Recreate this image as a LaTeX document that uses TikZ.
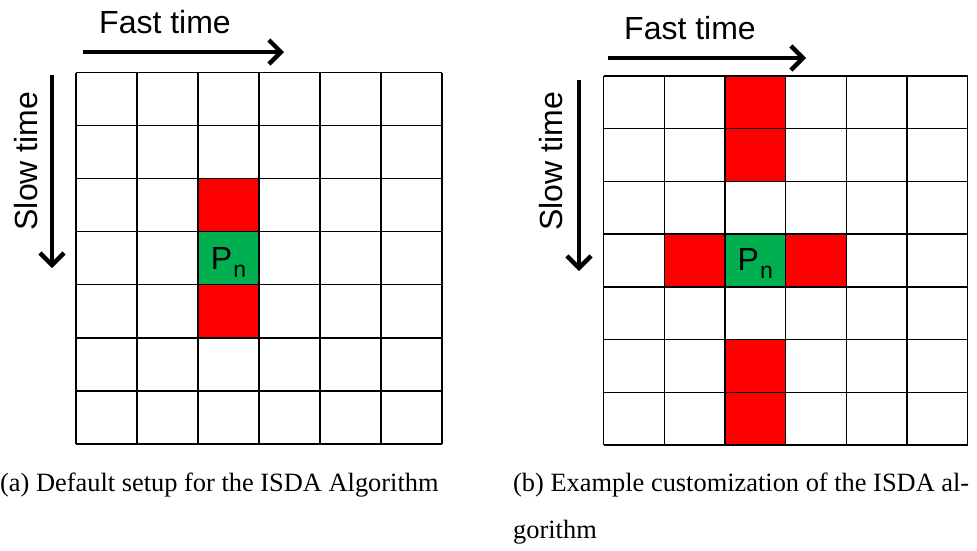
\documentclass[tikz,border=0pt]{standalone}
\usepackage{fontspec}
\setmainfont{Liberation Serif}
\newfontfamily\labelfont{Liberation Sans}
\usetikzlibrary{arrows.meta}

\definecolor{cellred}{RGB}{255,0,0}
\definecolor{cellgreen}{RGB}{0,176,80}

\tikzset{
  gridline/.style={line width=1.4pt, black},
  redcell/.style={fill=cellred},
  greencell/.style={fill=cellgreen},
  axisarrow/.style={line width=4.6pt, -{Straight Barb[length=12pt,width=24pt,line width=4.4pt]}},
  axislabel/.style={font=\labelfont\fontsize{32}{36}\selectfont, inner sep=0pt},
  pnlabel/.style={font=\labelfont\fontsize{32}{36}\selectfont, inner sep=0pt, anchor=base},
  caption/.style={font=\fontsize{26.4}{30}\selectfont, inner sep=0pt, anchor=base west},
}

% P with a lowered small n
\newcommand{\pnsym}{P\kern1pt\raisebox{-8pt}{\fontsize{23}{23}\selectfont n}}

\begin{document}
\begin{tikzpicture}[x=1pt, y=-1pt]
  \useasboundingbox (0,0) rectangle (977,550);

  % ---------- left panel: default setup ----------
  \begin{scope}[shift={(76,72.5)}, x=61pt, y=-53.07pt]
    \fill[redcell]   (2,2) rectangle (3,3);
    \fill[greencell] (2,3) rectangle (3,4);
    \fill[redcell]   (2,4) rectangle (3,5);
    \foreach \c in {0,...,6} \draw[gridline] (\c,0) -- (\c,7);
    \foreach \r in {0,...,7} \draw[gridline] (0,\r) -- (6,\r);
    \node[pnlabel, yshift=-11pt] (pnA) at (2.5,3.5) {\pnsym};
  \end{scope}

  \coordinate (fastAstart) at (83,52);
  \coordinate (fastAend)   at (284,52);
  \draw[axisarrow] (fastAstart) -- (fastAend);
  \node[axislabel, anchor=base] (fastA) at (165,33.3) {Fast time};

  \coordinate (slowAstart) at (52,75);
  \coordinate (slowAend)   at (52,268);
  \draw[axisarrow] (slowAstart) -- (slowAend);
  \node[axislabel, anchor=base, rotate=90] (slowA) at (37,161) {Slow time};

  \node[caption] (capA) at (0,491.7) {(a) Default setup for the ISDA Algorithm};

  % ---------- right panel: customised neighbourhood ----------
  \begin{scope}[shift={(603.5,76)}, x=60.7pt, y=-52.71pt]
    \fill[redcell]   (2,0) rectangle (3,1);
    \fill[redcell]   (2,1) rectangle (3,2);
    \fill[redcell]   (1,3) rectangle (2,4);
    \fill[greencell] (2,3) rectangle (3,4);
    \fill[redcell]   (3,3) rectangle (4,4);
    \fill[redcell]   (2,5) rectangle (3,6);
    \fill[redcell]   (2,6) rectangle (3,7);
    \foreach \c in {0,...,6} \draw[gridline] (\c,0) -- (\c,7);
    \foreach \r in {0,...,7} \draw[gridline] (0,\r) -- (6,\r);
    \node[pnlabel, yshift=-10.5pt] (pnB) at (2.5,3.5) {\pnsym};
  \end{scope}

  \coordinate (fastBstart) at (608,58);
  \coordinate (fastBend)   at (806,58);
  \draw[axisarrow] (fastBstart) -- (fastBend);
  \node[axislabel, anchor=base] (fastB) at (690,39.3) {Fast time};

  \coordinate (slowBstart) at (579,80);
  \coordinate (slowBend)   at (579,271);
  \draw[axisarrow] (slowBstart) -- (slowBend);
  \node[axislabel, anchor=base, rotate=90] (slowB) at (562.7,161.5) {Slow time};

  \node[caption] (capB1) at (513,491.7) {(b) Example customization of the ISDA al-};
  \node[caption] (capB2) at (513,538) {gorithm};
\end{tikzpicture}
\end{document}
